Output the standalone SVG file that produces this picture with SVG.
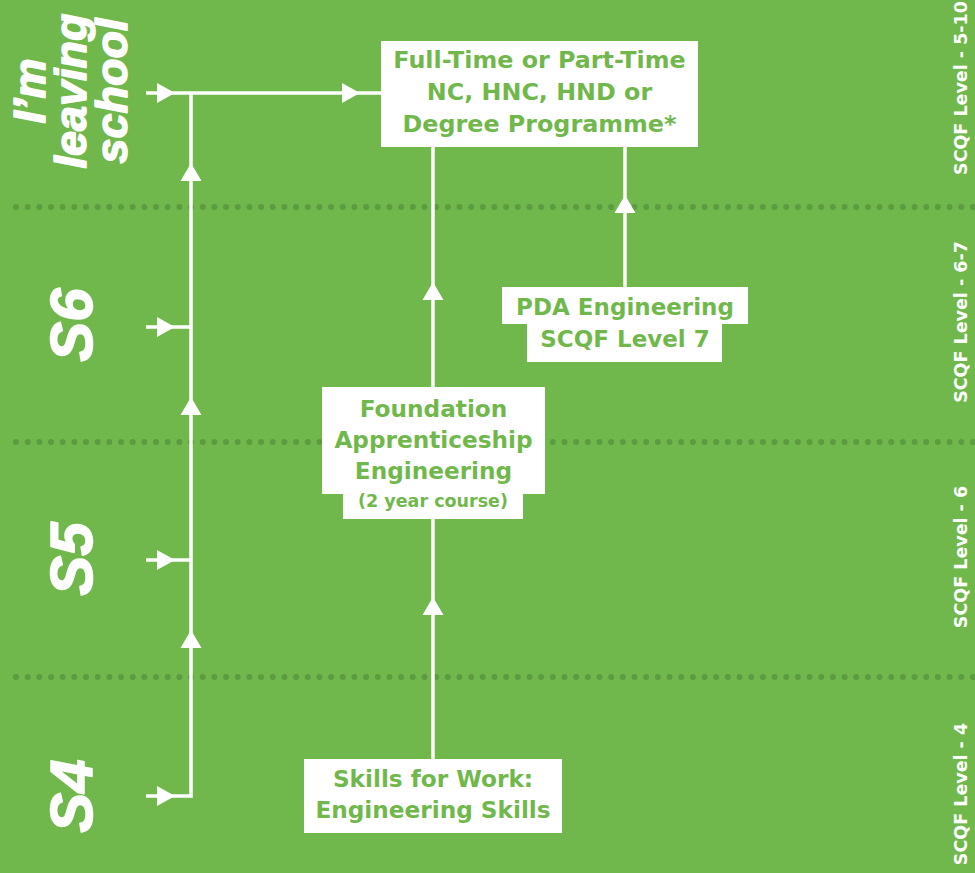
<svg xmlns="http://www.w3.org/2000/svg" width="975" height="873" viewBox="0 0 975 873">
<style>
.bg{fill:#71b84c}
.dots{stroke:#5c9b3f;stroke-width:6;stroke-linecap:round;stroke-dasharray:0 11.67;fill:none}
.ln{stroke:#fff;stroke-width:3.5;fill:none}
.box{fill:#fff}
.bt{font-family:"DejaVu Sans",sans-serif;font-weight:bold;fill:#71b84c;text-anchor:middle}
.yr{font-family:"Liberation Sans",Arial,sans-serif;font-weight:bold;font-style:italic;fill:#fff;stroke:#fff;stroke-width:1.5;stroke-linejoin:round;text-anchor:middle}
.lv{font-family:"DejaVu Sans",sans-serif;font-weight:bold;fill:#fff;text-anchor:middle;font-size:17.5px}
</style>
<defs>
<path id="au" d="M0,0 L10.5,18 L-10.5,18 Z" fill="#fff"/>
<path id="ar" d="M0,0 L-18,10 L-18,-10 Z" fill="#fff"/>
</defs>
<rect class="bg" x="0" y="0" width="975" height="873"/>
<g id="gridlines">
<line class="dots" x1="16" y1="207" x2="975" y2="207"/>
<line class="dots" x1="16" y1="442" x2="975" y2="442"/>
<line class="dots" x1="16" y1="677" x2="975" y2="677"/>
</g>
<g id="year-labels">
<text class="yr" font-size="45" transform="translate(45,91) rotate(-90)">I’m</text>
<text class="yr" font-size="45" transform="translate(86,91) rotate(-90)">leaving</text>
<text class="yr" font-size="45" transform="translate(127,91) rotate(-90)">school</text>
<text class="yr" font-size="60" transform="translate(92,325) rotate(-90)">S6</text>
<text class="yr" font-size="60" transform="translate(92,559) rotate(-90)">S5</text>
<text class="yr" font-size="60" transform="translate(92,796) rotate(-90)">S4</text>
</g>
<g id="level-labels">
<text class="lv" transform="translate(967,88) rotate(-90)">SCQF Level - 5-10</text>
<text class="lv" transform="translate(967,322) rotate(-90)">SCQF Level - 6-7</text>
<text class="lv" transform="translate(967,557) rotate(-90)">SCQF Level - 6</text>
<text class="lv" transform="translate(967,794) rotate(-90)">SCQF Level - 4</text>
</g>
<g id="connectors">
<path class="ln" d="M146,93 H381"/>
<path class="ln" d="M191,93 V796 H146"/>
<path class="ln" d="M146,327 H191"/>
<path class="ln" d="M146,560 H191"/>
<path class="ln" d="M433,147 V759"/>
<path class="ln" d="M625,147 V287"/>
<use href="#ar" x="175" y="93"/>
<use href="#ar" x="360" y="93"/>
<use href="#ar" x="175" y="327"/>
<use href="#ar" x="175" y="560"/>
<use href="#ar" x="175" y="796"/>
<use href="#au" x="191" y="163"/>
<use href="#au" x="191" y="397"/>
<use href="#au" x="191" y="630"/>
<use href="#au" x="433" y="282"/>
<use href="#au" x="433" y="597"/>
<use href="#au" x="625" y="195"/>
</g>
<g id="node-degree">
<rect class="box" x="381" y="41" width="317" height="106"/>
<text class="bt" font-size="23.8" x="539.5" y="68">Full-Time or Part-Time</text>
<text class="bt" font-size="23.8" x="539.5" y="100">NC, HNC, HND or</text>
<text class="bt" font-size="23.8" x="539.5" y="132">Degree Programme*</text>
</g>
<g id="node-pda">
<rect class="box" x="502" y="287" width="246" height="37"/>
<rect class="box" x="527" y="323" width="195" height="39"/>
<text class="bt" font-size="23" x="625" y="315">PDA Engineering</text>
<text class="bt" font-size="23" x="625" y="347">SCQF Level 7</text>
</g>
<g id="node-foundation">
<rect class="box" x="322" y="387" width="223" height="107"/>
<rect class="box" x="343" y="493" width="180" height="26"/>
<text class="bt" font-size="23.2" x="433.5" y="417">Foundation</text>
<text class="bt" font-size="23.2" x="433.5" y="448">Apprenticeship</text>
<text class="bt" font-size="23.2" x="433.5" y="479">Engineering</text>
<text class="bt" font-size="17.5" x="433" y="507">(2 year course)</text>
</g>
<g id="node-skills">
<rect class="box" x="304" y="759" width="258" height="74"/>
<text class="bt" font-size="23.2" x="433" y="787">Skills for Work:</text>
<text class="bt" font-size="23.2" x="433" y="818">Engineering Skills</text>
</g>
</svg>
